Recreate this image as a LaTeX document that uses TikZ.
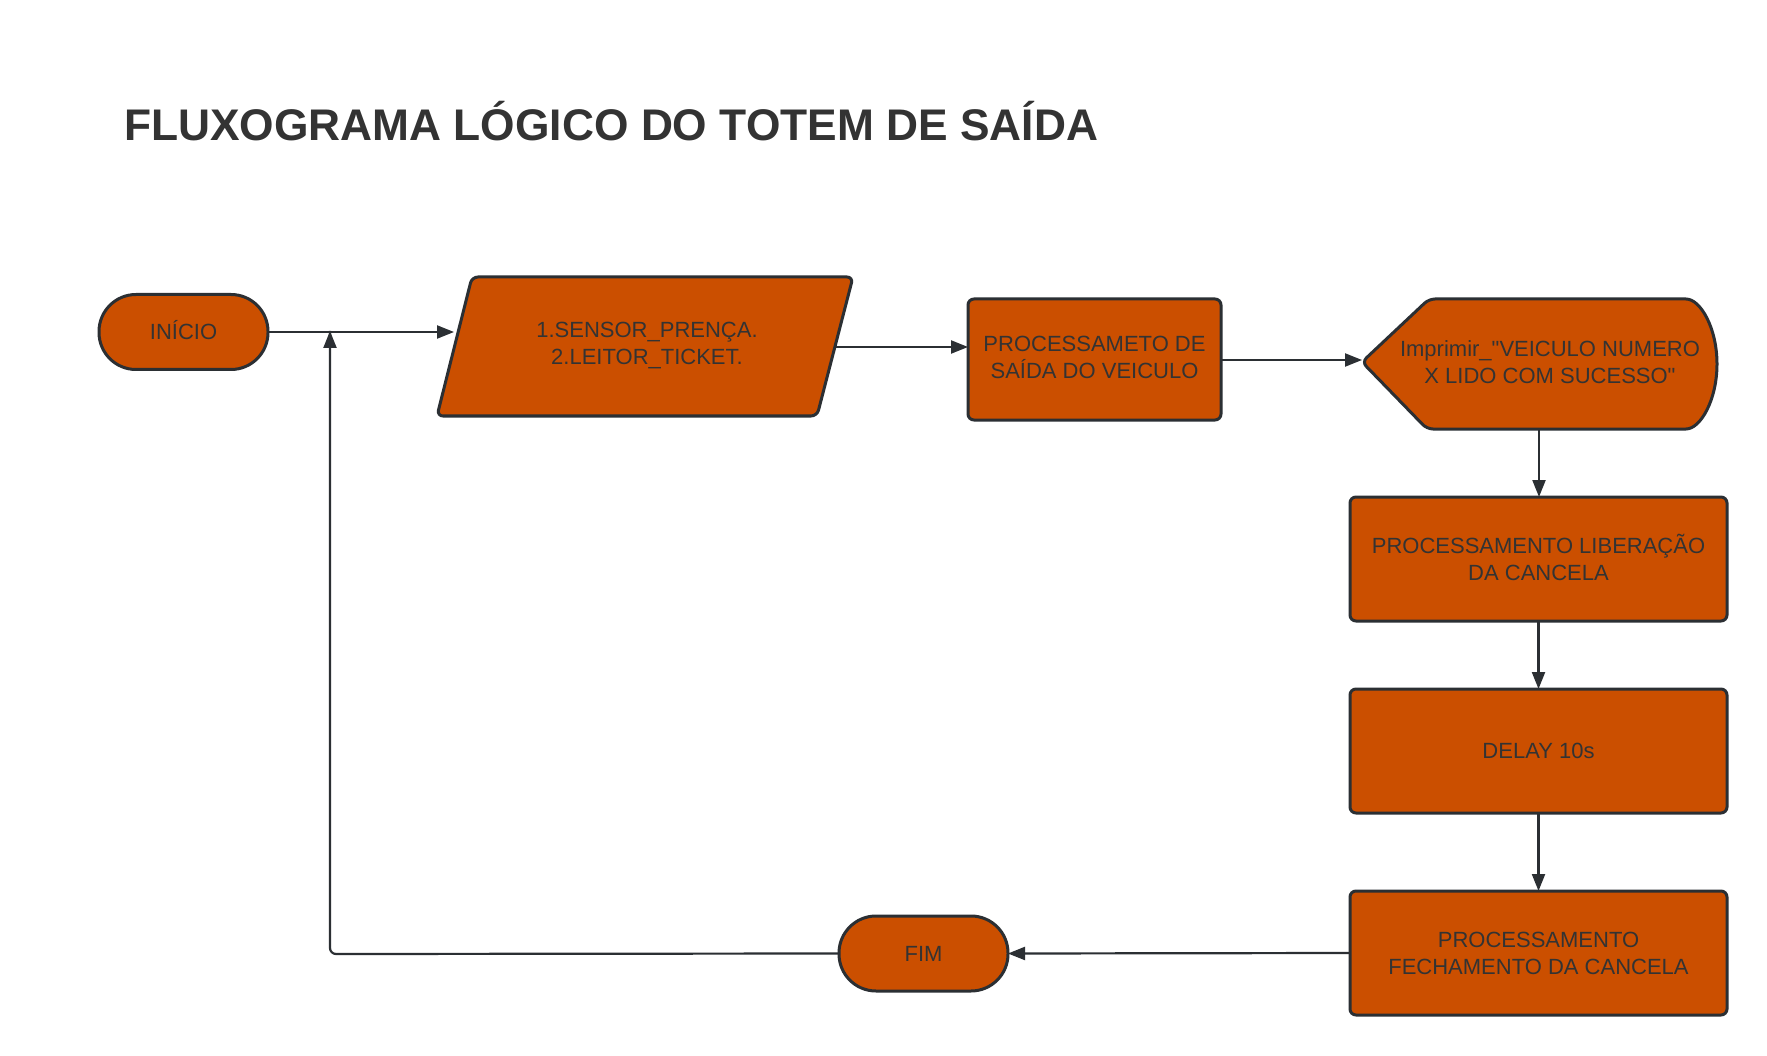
\documentclass[tikz,border=0pt]{standalone}
\usepackage{fontspec}
\setmainfont{Liberation Sans}[Ligatures=TeXOff]
\usetikzlibrary{arrows.meta}
\definecolor{boxfill}{RGB}{203,79,0}
\definecolor{boxline}{RGB}{43,47,51}
\definecolor{txt}{RGB}{51,51,51}
\tikzset{
  shapeln/.style={draw=boxline, line width=3pt, fill=boxfill},
  boxtext/.style={text=txt, font=\fontsize{22}{27}\selectfont, align=center, inner sep=0pt},
  procbox/.style={shapeln, boxtext, rectangle, rounded corners=6pt, minimum height=124pt, outer sep=0pt},
  termbox/.style={shapeln, boxtext, rectangle, rounded corners=37pt, minimum width=169pt, minimum height=75pt, outer sep=0pt},
  conn/.style={draw=boxline, line width=2.2pt, -{Triangle[length=17pt,width=13pt]}},
  connplain/.style={draw=boxline, line width=2.2pt, rounded corners=6pt},
}
\begin{document}
\begin{tikzpicture}[x=1pt,y=-1pt]
\useasboundingbox[fill=white] (0,0) rectangle (1767,1056);

% title
\node[anchor=base west, inner sep=0pt, text=txt, font=\fontsize{44.3}{50}\selectfont\bfseries] (title) at (124,141) {FLUXOGRAMA LÓGICO DO TOTEM DE SAÍDA};

% terminals
\node[termbox] (ini) at (183.5,332) {};
\node[boxtext] (initxt) at (183.5,330) {INÍCIO};
\node[termbox] (fim) at (923.5,953.5) {FIM};

% parallelogram (input)
\draw[shapeln, rounded corners=6pt] (437,416) -- (472,277) -- (853,277) -- (817,416) -- cycle;
\node[boxtext] (par) at (647,346) {1.SENSOR\_PRENÇA.\\2.LEITOR\_TICKET.};
\coordinate (parin) at (454,332);
\coordinate (parout) at (835,347);

% process box
\node[procbox, minimum width=253pt, minimum height=121pt] (proc) at (1094.5,359.5) {};
\node[boxtext] (proctxt) at (1094.5,357.5) {PROCESSAMETO DE\\SAÍDA DO VEICULO};
\coordinate (procin) at (968,347);

% display shape
\draw[shapeln, rounded corners=6pt] (1362,362) -- (1429,299) -- (1680,299)
  arc[start angle=-90, end angle=90, x radius=37, y radius=65] -- (1427,429) -- cycle;
\node[boxtext] (disp) at (1550,362) {Imprimir\_"VEICULO NUMERO\\X LIDO COM SUCESSO"};
\coordinate (dispin) at (1362,360);
\coordinate (dispout) at (1539,429);

% right column
\node[procbox, minimum width=377pt] (lib) at (1538.5,559) {};
\node[boxtext] (libtxt) at (1538.5,557) {PROCESSAMENTO LIBERAÇÃO\\DA CANCELA};
\node[procbox, minimum width=377pt] (delay) at (1538.5,751) {DELAY 10s};
\node[procbox, minimum width=377pt] (fech) at (1538.5,953) {PROCESSAMENTO\\FECHAMENTO DA CANCELA};

% connectors
\coordinate (loopjoin) at (330,332);
\coordinate (loopcorner) at (330,954);
\draw[conn] (ini.east) -- (parin);
\draw[conn] (parout) -- (procin);
\draw[conn] (proc.east |- dispin) -- (dispin);
\draw[conn] (dispout) -- (dispout |- lib.north);
\draw[conn] (lib.south) -- (delay.north);
\draw[conn] (delay.south) -- (fech.north);
\draw[conn] (fech.west) -- (fim.east);
\draw[connplain] (fim.west) -- (loopcorner) -- ([yshift=1pt]loopjoin);
\draw[conn] (330,420) -- ([yshift=1pt]loopjoin);
\end{tikzpicture}
\end{document}
